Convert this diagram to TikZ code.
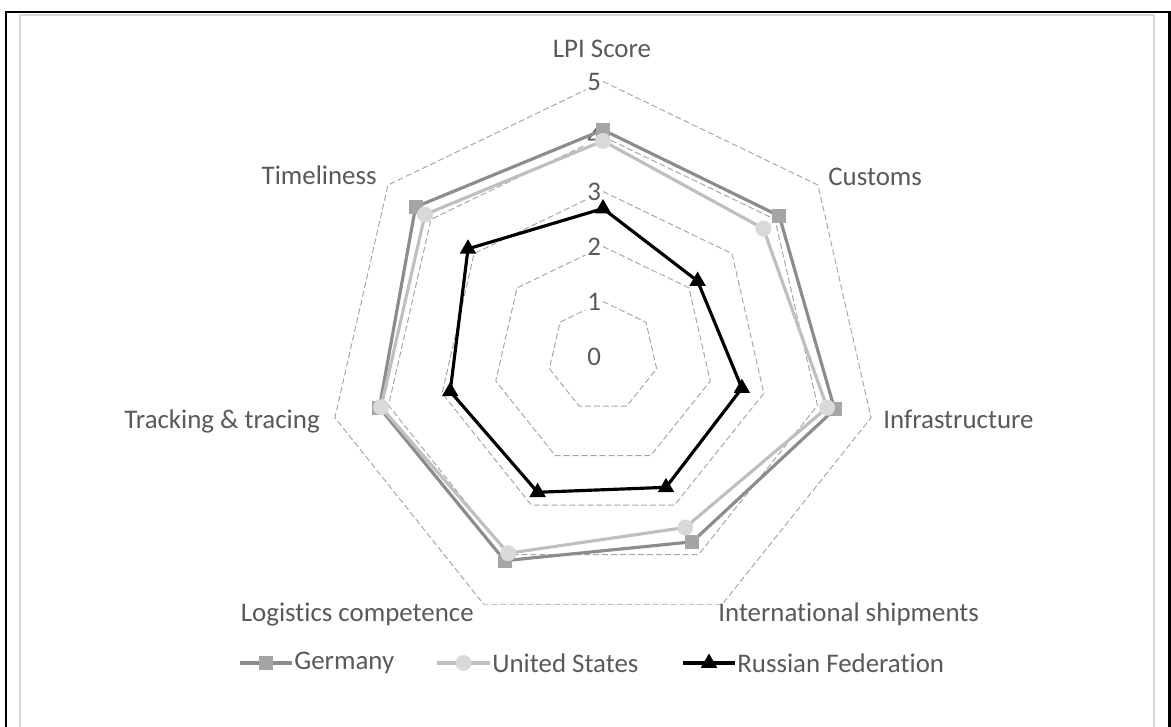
\documentclass[tikz,border=0pt]{standalone}
\usepackage{fontspec}
\setmainfont[Ligatures={NoCommon}]{Carlito}
\usetikzlibrary{shapes.geometric, positioning, calc}

\definecolor{labgray}{HTML}{595959}
\definecolor{gridgray}{HTML}{A6A6A6}
\definecolor{deline}{HTML}{8C8C8C}
\definecolor{defill}{HTML}{A5A5A5}
\definecolor{usline}{HTML}{BFBFBF}
\definecolor{usfill}{HTML}{D9D9D9}

\begin{document}
\begin{tikzpicture}[x=0.02cm, y=-0.02cm,
    grid/.style={draw=gridgray, line width=0.55pt, dash pattern=on 3.4pt off 1.7pt},
    lbl/.style={font=\fontsize{15.3}{18}\selectfont, text=labgray, inner sep=0pt},
    val/.style={lbl, fill=white, inner sep=1pt},
    series/.style={line width=1.8pt, line join=round},
    deser/.style={series, draw=deline},
    usser/.style={series, draw=usline},
    ruser/.style={series, draw=black},
    demark/.style={draw=none, fill=defill, rectangle, minimum size=0.28cm, inner sep=0pt},
    usmark/.style={draw=none, fill=usfill, circle, minimum size=0.32cm, inner sep=0pt},
    rumark/.style={draw=none, fill=black, regular polygon, regular polygon sides=3, minimum size=0.38cm, inner sep=0pt}
]
\useasboundingbox (0,0) rectangle (1171,727);

% frame
\draw[usfill, line width=1.1pt] (20,15) rectangle (1154,760);
\draw[black, line width=1.2pt] (6,12) rectangle (1169.5,760);

\begin{scope}[shift={(603,356.5)}]
% grid rings 1..5
\foreach \r in {1,...,5}
  \draw[grid] (-90:\r*55) \foreach \k in {1,...,6} { -- (-90+\k*360/7:\r*55) } -- cycle;
% value labels
\foreach \r in {0,...,5}
  \node[val, anchor=east] (v\r) at (-90:\r*55) {\r};

% Germany
\foreach \v [count=\k from 0] in {4.12,4.10,4.32,3.74,4.12,4.17,4.36}
  \coordinate (de\k) at (-90+\k*360/7:\v*55);
\draw[deser] (de0) -- (de1) -- (de2) -- (de3) -- (de4) -- (de5) -- (de6) -- cycle;
\foreach \k in {0,...,6}
  \node[demark] (dem\k) at (de\k) {};

% United States
\foreach \v [count=\k from 0] in {3.92,3.73,4.18,3.45,3.97,4.14,4.14}
  \coordinate (us\k) at (-90+\k*360/7:\v*55);
\draw[usser] (us0) -- (us1) -- (us2) -- (us3) -- (us4) -- (us5) -- (us6) -- cycle;
\foreach \k in {0,...,6}
  \node[usmark] (usm\k) at (us\k) {};

% Russian Federation
\foreach \v [count=\k from 0] in {2.69,2.20,2.59,2.64,2.74,2.85,3.14}
  \coordinate (ru\k) at (-90+\k*360/7:\v*55);
\draw[ruser] (ru0) -- (ru1) -- (ru2) -- (ru3) -- (ru4) -- (ru5) -- (ru6) -- cycle;
\foreach \k in {0,...,6}
  \node[rumark] (rum\k) at (ru\k) {};
\end{scope}

% category labels
\node[lbl, anchor=base] (lpi) at (602,57) {LPI Score};
\node[lbl, anchor=base west] (cust) at (828,185) {Customs};
\node[lbl, anchor=base west] (infra) at (883,428) {Infrastructure};
\node[lbl, anchor=base west] (intl) at (718,621) {International shipments};
\node[lbl, anchor=base east] (logc) at (474,621) {Logistics competence};
\node[lbl, anchor=base east] (track) at (320,428) {Tracking \& tracing};
\node[lbl, anchor=base east] (time) at (377,184) {Timeliness};

% legend
\coordinate (lde1) at (240,663);
\coordinate (lde2) at (292,663);
\draw[deser] (lde1) -- (lde2);
\node[demark] (ldem) at ($(lde1)!0.5!(lde2)$) {};
\node[lbl, anchor=west] (lgde) at (294,663) {Germany};
\coordinate (lus1) at (437,663);
\coordinate (lus2) at (490,663);
\draw[usser] (lus1) -- (lus2);
\node[usmark] (lusm) at ($(lus1)!0.5!(lus2)$) {};
\node[lbl, anchor=west] (lgus) at (492,663) {United States};
\coordinate (lru1) at (683,663);
\coordinate (lru2) at (735,663);
\draw[ruser] (lru1) -- (lru2);
\node[rumark] (lrum) at ($(lru1)!0.5!(lru2)$) {};
\node[lbl, anchor=west] (lgru) at (737,663) {Russian Federation};

\end{tikzpicture}
\end{document}
